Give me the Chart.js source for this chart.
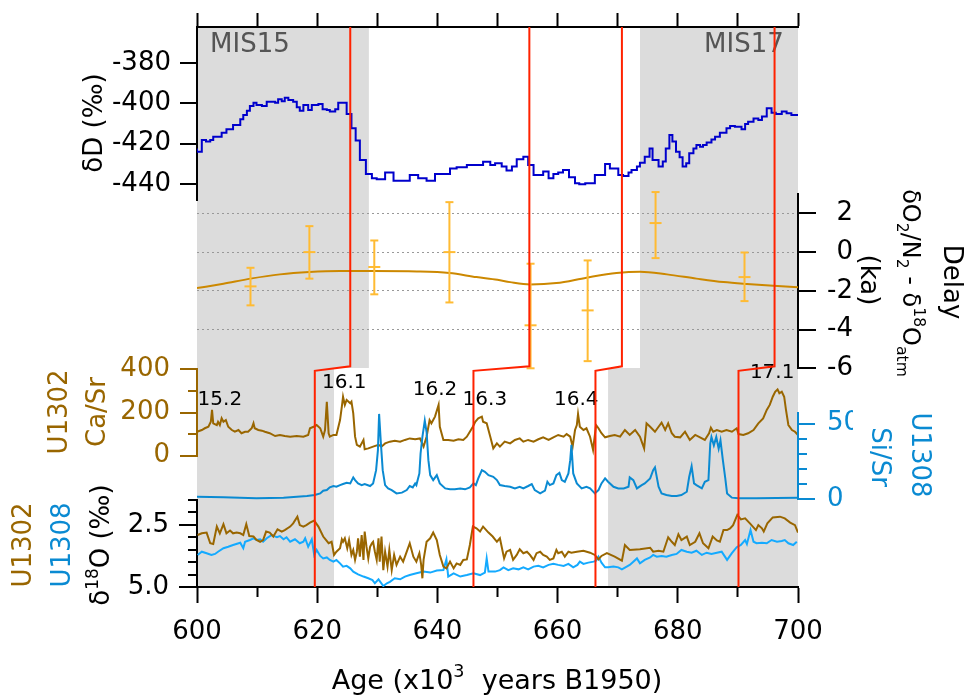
<!DOCTYPE html>
<html>
<head>
<meta charset="utf-8">
<script src="https://cdn.jsdelivr.net/npm/chart.js@4.4.1/dist/chart.umd.min.js"></script>
<style>
  body { margin: 0; background: #fff; }
  #wrap { position: relative; width: 967px; height: 695px; }
  #wrap canvas { position: absolute; left: 0; top: 0; }
</style>
</head>
<body>
<div id="wrap">
  <canvas id="cShade" width="967" height="695"></canvas>
  <canvas id="cDD" width="967" height="695"></canvas>
  <canvas id="cDelay" width="967" height="695"></canvas>
  <canvas id="cCaSr" width="967" height="695"></canvas>
  <canvas id="cSiSr" width="967" height="695"></canvas>
  <canvas id="cD18O" width="967" height="695"></canvas>
  <canvas id="cRed" width="967" height="695"></canvas>
</div>
<script>
// ---- data (age in ka) ----
const ageMin = 600, ageMax = 700;
const xMajorTicks = [600, 620, 640, 660, 680, 700];
const xMinorTicks = [610, 630, 650, 670, 690];
const xTopTicks = [600, 610, 620, 630, 640, 650, 660, 670, 680, 690, 700];

// deuterium, stepped
const dDAge = [
  600.0,600.8,601.5,602.2,602.7,604.1,604.9,606.0,607.2,607.7,
  608.3,608.8,609.4,609.9,610.8,611.6,613.0,613.5,614.1,614.6,
  615.2,616.0,616.6,617.1,617.7,618.5,619.1,620.2,620.9,621.6,
  622.1,623.0,623.5,624.9,625.7,626.4,627.1,628.1,629.1,629.9,
  631.3,632.7,634.1,635.4,636.8,638.2,639.6,642.1,643.2,644.9,
  647.6,648.8,649.6,650.7,651.5,652.4,653.2,654.3,655.1,656.0,
  657.6,658.5,659.3,660.1,660.9,661.9,662.9,663.6,664.6,666.2,
  667.9,668.7,670.1,670.9,671.8,672.3,673.2,673.7,674.5,675.3,
  675.8,676.8,677.5,678.0,678.6,679.1,679.7,680.3,680.8,681.4,
  681.9,682.6,683.1,683.7,684.2,684.8,685.6,686.2,687.0,688.1,
  688.7,689.5,690.6,691.2,691.7,692.6,693.4,694.0,694.8,695.6,
  696.3,697.3,698.1,698.9,699.5,700.0];
const dDVal = [
  -422.4,-424.0,-418.2,-419.0,-418.2,-416.6,-414.6,-412.9,-410.8,-407.9,
  -405.8,-403.7,-401.3,-399.7,-400.8,-401.3,-399.2,-399.7,-398.0,-399.0,
  -397.2,-398.4,-399.2,-402.0,-403.7,-400.8,-403.3,-400.8,-400.3,-403.0,
  -403.3,-404.1,-403.0,-399.7,-405.3,-412.4,-418.5,-428.1,-435.1,-437.2,
  -437.7,-434.4,-438.4,-438.4,-435.6,-437.2,-438.4,-435.1,-432.3,-431.8,
  -430.6,-429.0,-430.6,-429.8,-431.4,-433.4,-431.4,-427.8,-426.5,-430.6,
  -435.6,-433.9,-437.2,-435.1,-434.4,-433.1,-436.7,-439.7,-440.2,-439.7,
  -435.6,-430.1,-432.3,-435.6,-436.1,-434.4,-433.1,-431.4,-429.5,-426.5,
  -422.4,-428.1,-431.4,-428.9,-422.4,-415.7,-419.0,-424.0,-426.8,-431.4,
  -429.8,-424.8,-422.4,-420.7,-421.5,-420.7,-419.5,-417.9,-416.6,-414.6,
  -412.4,-411.3,-411.6,-412.9,-410.3,-409.1,-407.5,-408.3,-406.6,-402.5,
  -404.7,-405.3,-404.1,-404.9,-405.8,-405.8];
const dDTicks = [-380, -400, -420, -440];

// delay dO2/N2 - d18Oatm
const delayCurveAge = [600.0,604.4,608.9,613.8,618.7,623.8,629.3,636.6,642.0,646.5,650.0,652.1,655.4,659.8,664.8,669.8,673.7,678.2,683.1,687.6,691.5,695.9,700.0];
const delayCurveVal = [-1.86,-1.63,-1.37,-1.15,-1.03,-0.98,-0.98,-1.00,-1.08,-1.29,-1.43,-1.55,-1.67,-1.60,-1.32,-1.08,-1.01,-1.15,-1.37,-1.55,-1.65,-1.74,-1.81];
const delayAge  = [608.9, 618.7, 629.5, 642.0, 655.5, 665.0, 676.3, 691.1];
const delayVal  = [-1.77, 0.00, -0.77, 0.00, -3.78, -3.01, 1.50, -1.29];
const delayLow  = [-2.75, -1.37, -2.18, -2.60, -6.00, -5.63, -0.31, -2.53];
const delayHigh = [-0.81, 1.34, 0.60, 2.58, -0.60, -0.43, 3.10, -0.02];
const delayTicks = [2, 0, -2, -4, -6];
const delayGrid = [2, 0, -2, -4];

// U1302 Ca/Sr
const caSrAge = [
  600.0,600.8,601.3,601.9,602.3,602.5,602.7,603.3,603.5,603.8,
  604.1,604.4,604.8,605.2,605.8,606.3,606.9,607.4,608.0,608.5,
  609.1,609.4,609.6,610.2,610.8,611.3,612.1,613.0,613.8,614.6,
  615.5,616.6,617.7,618.5,618.8,619.4,619.9,620.5,621.0,621.3,
  621.6,621.9,622.1,622.7,623.2,623.8,624.1,624.3,624.6,624.9,
  625.5,625.7,626.0,626.3,626.6,627.1,627.7,627.9,628.5,629.3,
  630.2,630.7,631.3,632.1,632.9,633.8,634.6,635.4,636.3,637.1,
  637.7,638.2,638.7,639.0,639.6,640.2,640.4,641.0,641.8,642.7,
  643.5,644.3,644.9,645.4,645.9,646.3,646.8,647.4,647.6,648.2,
  648.8,
  649.3,649.9,650.4,651.2,652.1,652.9,653.7,654.3,655.1,
  656.0,656.8,657.6,658.5,659.3,660.1,661.0,661.5,662.1,662.5,
  662.9,663.2,663.4,663.7,664.3,664.8,665.4,665.9,666.4,666.8,
  667.3,667.9,668.7,669.5,670.4,671.2,672.0,672.9,673.7,674.4,
  674.8,675.4,676.2,676.8,677.3,677.9,678.4,679.0,679.5,680.4,
  681.2,682.0,682.9,683.7,684.5,685.2,685.5,685.9,686.5,687.3,
  688.1,689.0,689.8,690.1,690.9,691.7,692.6,693.4,694.2,694.8,
  695.3,695.8,696.2,696.6,696.9,697.3,697.7,698.0,698.4,699.0,
  699.5,700.0];
const caSrVal = [
  111,119,127,134,157,212,150,142,157,142,
  173,157,165,134,119,111,119,104,111,111,
  127,150,127,119,116,111,104,91,96,91,
  88,91,88,96,127,134,142,127,88,119,
  250,104,88,96,96,165,227,273,235,258,
  243,250,196,88,50,42,73,30,34,42,
  50,42,57,65,69,65,73,80,76,80,
  42,88,165,150,181,235,134,73,73,69,
  76,73,88,111,134,157,173,181,157,150,
  88,
  34,57,42,65,57,73,80,65,73,
  65,76,85,73,85,96,88,100,88,42,
  119,142,193,134,119,127,88,27,142,127,
  104,85,91,96,88,119,96,119,88,34,
  150,134,111,134,153,119,150,104,88,85,
  111,73,96,85,73,104,130,111,119,111,
  119,111,127,100,96,104,119,150,173,212,
  235,273,296,307,289,296,273,212,142,119,
  111,96];
const caSrMajor = [0, 200, 400];
const caSrMinor = [100, 300];
const peakLabels = ['15.2', '16.1', '16.2', '16.3', '16.4', '17.1'];
const peakAge = [603.8, 624.5, 639.6, 647.9, 663.1, 695.7];
const peakVal = [258, 337, 304, 258, 258, 383];

// U1308 Si/Sr
const siSrAge = [
  600.0,604.4,609.9,614.4,618.3,619.6,620.5,621.0,621.6,622.1,
  622.7,623.2,623.8,624.3,624.9,625.5,626.0,626.3,626.8,627.4,
  627.9,628.8,629.3,629.8,630.1,630.3,630.6,630.9,631.3,631.8,
  632.4,633.2,634.1,634.9,635.4,635.9,636.3,636.5,637.0,637.2,
  637.5,637.9,638.2,638.5,638.8,639.3,639.9,640.4,641.3,642.1,
  642.9,643.8,644.6,645.4,646.0,646.4,646.8,647.4,647.9,648.5,
  649.3,649.9,650.4,651.2,652.1,652.9,653.7,654.3,655.1,655.7,
  656.2,657.1,657.9,658.3,658.7,659.3,659.8,660.3,660.7,661.2,
  661.8,662.1,662.3,662.6,663.2,664.0,664.8,665.4,666.2,666.8,
  667.3,667.9,668.4,669.3,670.1,671.0,671.8,672.0,672.6,673.2,
  674.0,674.5,675.4,675.9,676.2,676.8,677.3,678.1,679.0,679.8,
  680.6,681.5,681.9,682.3,682.7,683.1,684.0,684.5,685.1,685.4,
  685.6,686.0,686.4,686.8,687.1,687.5,687.9,688.2,689.0,690.1,
  693.1,696.4,700.0];
const siSrVal = [
  1.7,1.3,0.7,1.1,2.2,2.8,3.9,5.7,6.1,7.9,
  8.8,8.3,9.4,10.1,10.9,10.5,14.5,12.7,10.5,9.4,
  10.1,8.8,10.5,19.3,32.4,56.5,36.8,19.3,9.4,7.2,
  6.1,3.9,4.4,6.1,8.8,7.9,10.5,9.4,17.1,30.3,
  41.2,52,44.5,25.9,16,12.7,16,10.5,7.2,6.6,
  6.6,7.2,6.6,7.9,10.5,9.4,13.8,19.3,18.2,16,
  14.9,12.7,9.4,8.8,8.3,7.2,8.3,7.2,8.8,10.1,
  6.1,3.9,5.7,11.6,9.4,10.5,16,17.5,12.7,11.6,
  17.1,25.9,36,17.1,10.5,7.2,8.3,7.2,3.9,6.1,
  10.5,13.8,11.6,8.3,7.2,7.2,8.3,14.5,12.7,7.2,
  9.4,10.5,13.8,19.3,21.1,8.3,3.9,2.8,2.2,2.2,
  2.8,5,14.9,21.9,10.5,9.4,7.2,11.6,12.7,36.8,
  41.2,35.7,41.2,33.5,39,25.9,13.8,3.9,1.1,0.7,
  0.7,0.9,1.1];
const siSrMajor = [0, 50];
const siSrMinor = [10, 20, 30, 40];

// benthic d18O
const o1302Age = [
  600.1,600.8,601.6,602.2,602.7,603.3,603.8,604.4,604.9,605.5,
  606.0,606.6,607.2,607.7,608.2,608.7,609.4,609.9,610.5,611.0,
  611.5,612.1,612.7,613.4,614.1,614.6,615.5,616.0,616.7,617.1,
  617.7,618.2,618.8,619.5,620.2,621.0,621.9,622.4,622.8,623.2,
  623.8,624.1,624.3,624.6,625.0,625.3,625.7,626.0,626.3,626.6,
  626.8,627.1,627.4,627.7,627.9,628.2,628.5,628.8,629.1,629.3,
  629.6,629.9,630.2,630.4,630.7,631.0,631.3,631.7,632.0,632.4,
  632.8,633.2,633.8,634.3,634.9,635.4,636.0,636.5,637.0,637.3,
  637.5,637.7,638.2,638.8,639.3,639.9,640.4,641.0,641.5,642.1,
  642.7,643.2,643.8,644.3,644.9,645.4,645.9,646.5,647.1,647.6,
  648.5,
  649.2,649.9,650.4,651.1,651.5,652.1,652.6,653.2,653.7,654.3,
  654.9,655.4,656.0,656.5,657.1,657.6,658.2,658.7,659.3,659.8,
  660.1,660.7,661.2,661.8,662.3,663.2,664.3,665.4,666.2,666.8,
  667.3,668.2,669.5,670.7,671.2,672.0,673.7,675.4,675.9,676.8,
  677.6,678.4,679.0,679.5,680.1,680.6,681.5,682.0,682.9,683.6,
  684.2,685.1,685.8,686.5,687.0,687.6,688.2,688.7,689.2,689.9,
  690.5,691.2,692.0,693.0,693.4,694.0,694.3,694.9,695.8,697.0,
  697.8,698.7,699.5,700.0];
const o1302Val = [
  2.91,2.84,2.81,3.24,3.27,2.57,2.84,2.47,2.84,2.73,
  2.84,2.81,2.84,2.91,2.47,2.95,2.97,3.11,3.18,3.11,
  2.77,2.81,2.97,2.68,2.77,2.71,2.57,2.44,2.17,2.51,
  2.57,2.51,2.41,2.33,2.57,2.97,3.24,3.18,3.71,3.58,
  3.44,3.08,3.18,3.04,3.44,3.11,3.71,3.51,3.91,3.58,
  3.04,3.78,2.91,3.91,2.77,3.38,3.85,3.38,3.24,3.18,
  3.58,3.91,3.04,3.98,2.97,4.32,3.58,4.18,3.51,4.32,
  3.71,4.11,3.78,3.98,3.58,3.24,3.78,3.98,3.64,4.11,
  4.65,3.91,3.18,3.04,2.81,3.11,3.71,4.18,4.25,3.98,
  4.25,4.05,4.11,3.91,3.89,3.31,2.57,2.64,2.77,2.57,
  2.81,
  2.97,3.18,3.04,3.85,3.58,3.51,3.91,3.71,3.48,3.64,
  3.58,3.71,3.91,3.64,3.58,3.71,3.78,3.91,3.85,3.51,
  3.64,3.58,3.78,3.58,3.62,3.58,3.54,3.62,3.71,3.89,
  3.75,3.64,3.78,3.94,3.31,3.51,3.48,3.42,3.58,3.54,
  3.58,3.00,3.18,3.31,2.88,3.11,2.97,3.31,3.18,2.84,
  3.24,3.44,2.97,3.13,3.18,2.71,2.71,2.64,2.51,2.10,
  2.28,2.24,2.44,2.71,2.51,2.64,2.77,2.44,2.20,2.17,
  2.24,2.41,2.51,2.81];
const o1308Age = [
  600.1,600.8,601.6,602.4,603.0,603.5,604.4,605.2,606.0,607.2,
  607.7,608.0,608.8,609.4,609.9,610.5,611.0,611.6,612.4,613.3,
  613.8,614.4,614.9,615.5,616.3,617.1,617.7,618.0,618.5,619.1,
  619.5,619.9,620.5,621.0,621.6,622.1,622.7,623.2,623.8,624.3,
  624.9,625.5,626.0,626.8,627.7,628.5,629.2,629.6,630.2,631.0,
  631.6,632.1,632.9,633.8,634.6,635.4,636.5,637.7,638.8,639.9,
  641.0,641.5,641.8,642.7,643.8,644.9,646.0,647.1,647.9,648.2,
  648.5,
  649.6,650.4,651.0,651.8,652.6,653.5,654.3,655.1,656.0,656.8,
  657.6,658.5,659.3,660.1,661.0,661.8,662.6,663.3,663.7,664.3,
  665.1,666.0,666.4,666.8,667.3,667.9,668.4,669.3,670.1,670.7,
  671.5,672.0,672.6,673.2,673.7,674.5,675.4,675.9,676.5,677.3,
  678.1,679.0,679.8,680.6,681.5,682.3,683.1,684.0,684.8,685.6,
  686.5,687.3,688.2,689.0,689.8,690.5,691.2,691.5,692.1,692.6,
  693.1,694.0,694.8,695.6,696.5,697.3,697.8,698.4,699.2,699.8];
const o1308Val = [
  3.71,3.58,3.64,3.71,3.67,3.58,3.44,3.38,3.31,3.22,
  3.44,3.18,3.11,3.04,3.11,3.08,3.18,3.04,2.91,3.00,
  2.95,3.08,3.00,3.18,3.08,3.24,3.18,3.04,3.38,3.08,
  3.71,3.51,3.75,3.85,3.81,3.91,3.98,3.91,4.05,4.18,
  4.15,4.25,4.38,4.49,4.58,4.65,4.72,4.85,4.69,4.96,
  4.85,4.79,4.65,4.69,4.58,4.52,4.45,4.38,4.42,4.34,
  4.32,3.89,4.58,4.45,4.58,4.52,4.45,4.52,4.42,3.85,
  4.38,
  4.38,4.32,4.21,4.32,4.25,4.29,4.21,4.29,4.18,4.15,
  4.21,4.11,4.07,4.11,4.15,4.07,4.21,4.11,3.98,4.07,
  4.02,3.98,3.94,3.78,4.02,4.21,4.21,4.18,4.21,4.29,
  4.18,4.11,3.98,3.85,4.05,3.91,3.81,3.71,3.78,3.75,
  3.78,3.71,3.67,3.51,3.58,3.62,3.54,3.71,3.62,3.67,
  3.62,3.58,3.91,3.64,3.40,3.31,3.11,3.27,2.71,3.18,
  3.24,3.22,3.24,3.11,3.18,3.15,3.11,3.24,3.31,3.18];
const o18Major = [2.5, 5.0];
const o18Minor = [1.5, 2.0, 3.0, 3.5, 4.0, 4.5];

// interglacial shading and tie lines (age ranges)
const shadeUpperFrom = [600.0, 673.7], shadeUpperTo = [628.6, 700.0];
const shadeLowerFrom = [600.0, 668.4], shadeLowerTo = [622.8, 700.0];
const redTopAge = [625.5, 655.3, 670.7, 696.1];
const redBottomAge = [619.6, 646.0, 666.3, 690.1];
const misLabels = ['MIS15', 'MIS17'];
const misAge = [608.8, 691.0];
const misVal = -371;

// ---- look ----
const FONT = '"DejaVu Sans", sans-serif';
const TICK_SIZE = 26;
const BROWN = '#996600';
const SIBLUE = '#0a8ad2';
const OBLUE = '#14aaff';
const SHADE = '#dcdcdc';
const RED = '#ff2200';
const splitLevel = 0.391;           // where upper and lower blocks meet (fraction of full height)
const redJogHi = 0.394, redJogLo = 0.386;

function pts(xs, ys) { return xs.map((x, i) => ({ x: x, y: ys[i] })); }
function setTicks(arr) { return function (s) { s.ticks = arr.map(v => ({ value: v })); }; }
function setWidth(w) { return function (s) { s.width = w; }; }
function setHeight(h) { return function (s) { s.height = h; }; }

function hiddenX() { return { type: 'linear', axis: 'x', min: ageMin, max: ageMax, display: false }; }

function yAxis(o) {
  return {
    type: 'linear', axis: 'y', position: o.position, min: o.min, max: o.max,
    reverse: !!o.reverse, weight: o.weight || 0,
    afterBuildTicks: setTicks(o.ticks), afterFit: setWidth(o.width),
    grid: { drawOnChartArea: false, color: o.color, tickLength: o.tl, tickWidth: 2, lineWidth: 2 },
    border: { color: o.color, width: 2 },
    ticks: {
      display: !!o.labels, color: o.color, padding: o.pad || 10,
      crossAlign: o.crossAlign || 'near',
      font: { family: FONT, size: TICK_SIZE },
      callback: o.fmt || (v => String(v))
    }
  };
}

function line(data, color, extra) {
  return Object.assign({ data: data, borderColor: color, borderWidth: 2, pointRadius: 0,
    fill: false, tension: 0, xAxisID: 'x', yAxisID: 'y' }, extra || {});
}

function makeChart(id, pad, scales, datasets, plugins) {
  return new Chart(document.getElementById(id), {
    type: 'line',
    data: { datasets: datasets },
    options: {
      responsive: false, animation: false, events: [],
      layout: { padding: pad },
      plugins: { legend: { display: false }, tooltip: { enabled: false } },
      scales: scales
    },
    plugins: plugins || []
  });
}

function drawRich(ctx, it) {
  const size = it.size || 26;
  ctx.save();
  ctx.translate(it.x, it.y);
  ctx.rotate((it.rot || 0) * Math.PI / 180);
  ctx.fillStyle = it.color || '#000';
  ctx.textBaseline = 'alphabetic';
  ctx.textAlign = 'left';
  let total = 0;
  it.parts.forEach(p => {
    ctx.font = (p.s ? size * 0.65 : size) + 'px ' + FONT;
    total += ctx.measureText(p.t).width;
  });
  let x = -total / 2;
  it.parts.forEach(p => {
    const fs = p.s ? size * 0.65 : size;
    ctx.font = fs + 'px ' + FONT;
    const dy = p.s === 'sup' ? -size * 0.45 : p.s === 'sub' ? size * 0.25 : 0;
    ctx.fillText(p.t, x, size * 0.36 + dy);
    x += ctx.measureText(p.t).width;
  });
  ctx.restore();
}

// ---- shading (behind everything) ----
const fullScales = {
  x: hiddenX(),
  y: { type: 'linear', axis: 'y', min: 0, max: 1, display: false }
};
const shadeSets = [];
shadeUpperFrom.forEach((a, i) => shadeSets.push(line(pts([a, shadeUpperTo[i]], [1, 1]), SHADE,
  { borderWidth: 0, backgroundColor: SHADE, fill: { value: splitLevel } })));
shadeLowerFrom.forEach((a, i) => shadeSets.push(line(pts([a, shadeLowerTo[i]], [splitLevel, splitLevel]), SHADE,
  { borderWidth: 0, backgroundColor: SHADE, fill: 'origin' })));
makeChart('cShade', { left: 197, right: 169, top: 27, bottom: 108 }, fullScales, shadeSets);

// ---- dD ----
makeChart('cDD', { left: 0, right: 169, top: 13, bottom: 495 }, {
  x: hiddenX(),
  xTop: {
    type: 'linear', axis: 'x', position: 'top', min: ageMin, max: ageMax,
    afterBuildTicks: setTicks(xTopTicks), afterFit: setHeight(14),
    grid: { drawOnChartArea: false, color: '#000', tickLength: 14, tickWidth: 2 },
    border: { color: '#000', width: 2 },
    ticks: { display: false }
  },
  y: yAxis({ position: 'left', min: -448.0, max: -362.1, ticks: dDTicks, width: 197, tl: 17, pad: 9, color: '#000', labels: true, weight: 1 })
}, [
  line(pts(dDAge, dDVal), '#0000cc', { stepped: 'after' })
], [{
  id: 'mis',
  afterDatasetsDraw(chart) {
    const ctx = chart.ctx;
    ctx.save();
    ctx.font = '26px ' + FONT;
    ctx.fillStyle = '#555';
    ctx.textAlign = 'center';
    ctx.textBaseline = 'middle';
    misLabels.forEach((t, i) => ctx.fillText(t, chart.scales.x.getPixelForValue(misAge[i]), chart.scales.y.getPixelForValue(misVal)));
    ctx.restore();
  }
}]);

// ---- delay ----
const barPts = [];
delayAge.forEach((a, i) => {
  barPts.push({ x: a, y: delayLow[i] }, { x: a, y: delayHigh[i] }, { x: a, y: null });
});
makeChart('cDelay', { left: 197, right: 114, top: 194, bottom: 326.7 }, {
  x: hiddenX(),
  y: yAxis({ position: 'right', min: -6, max: 3, ticks: delayTicks, width: 55, tl: 18, color: '#000', labels: true, weight: 1, crossAlign: 'far' }),
  yg: {
    type: 'linear', axis: 'y', position: 'right', min: -6, max: 3, weight: 0,
    afterBuildTicks: setTicks(delayGrid), afterFit: setWidth(0),
    grid: { drawOnChartArea: true, drawTicks: false, color: '#999', lineWidth: 1, borderDash: [2, 3] },
    border: { display: false, dash: [2, 3] },
    ticks: { display: false }
  }
}, [
  line(pts(delayAge, delayVal), '#ffbb33', { showLine: false, pointStyle: 'line', pointRadius: 6, pointBorderWidth: 2, pointBorderColor: '#ffbb33', clip: false }),
  line(barPts, '#ffbb33', { pointStyle: 'line', pointRadius: 4, pointBorderWidth: 2, pointBorderColor: '#ffbb33', spanGaps: false, clip: false }),
  line(pts(delayCurveAge, delayCurveVal), '#cc8800', { cubicInterpolationMode: 'monotone' })
]);

// ---- Ca/Sr ----
makeChart('cCaSr', { left: 0, right: 169, top: 369.3, bottom: 239.3 }, {
  x: hiddenX(),
  y: yAxis({ position: 'left', min: 0, max: 400, ticks: caSrMajor, width: 197, tl: 17, pad: 10, color: BROWN, labels: true, weight: 1 }),
  y2: yAxis({ position: 'left', min: 0, max: 400, ticks: caSrMinor, width: 0, tl: 9, color: BROWN, labels: false, weight: 0 })
}, [
  line(pts(caSrAge, caSrVal), BROWN, { clip: false })
], [{
  id: 'peaks',
  afterDatasetsDraw(chart) {
    const ctx = chart.ctx;
    ctx.save();
    ctx.font = '20px ' + FONT;
    ctx.fillStyle = '#000';
    ctx.textAlign = 'center';
    ctx.textBaseline = 'middle';
    peakLabels.forEach((t, i) => ctx.fillText(t, chart.scales.x.getPixelForValue(peakAge[i]), chart.scales.y.getPixelForValue(peakVal[i])));
    ctx.restore();
  }
}]);

// ---- Si/Sr ----
makeChart('cSiSr', { left: 197, right: 114, top: 412.7, bottom: 195.7 }, {
  x: hiddenX(),
  y: yAxis({ position: 'right', min: 0, max: 57.3, ticks: siSrMajor, width: 55, tl: 17, color: SIBLUE, labels: true, weight: 1, pad: 12 }),
  y2: yAxis({ position: 'right', min: 0, max: 57.3, ticks: siSrMinor, width: 0, tl: 9, color: SIBLUE, labels: false, weight: 0 })
}, [
  line(pts(siSrAge, siSrVal), SIBLUE, { clip: false })
]);

// ---- d18O + bottom age axis ----
makeChart('cD18O', { left: 0, right: 169, top: 500, bottom: 0 }, {
  x: {
    type: 'linear', axis: 'x', position: 'bottom', min: ageMin, max: ageMax, weight: 1,
    afterBuildTicks: setTicks(xMajorTicks), afterFit: setHeight(108),
    grid: { drawOnChartArea: false, color: '#000', tickLength: 16, tickWidth: 2 },
    border: { color: '#000', width: 2 },
    ticks: { color: '#000', padding: 14, font: { family: FONT, size: TICK_SIZE }, maxRotation: 0 }
  },
  x2: {
    type: 'linear', axis: 'x', position: 'bottom', min: ageMin, max: ageMax, weight: 0,
    afterBuildTicks: setTicks(xMinorTicks), afterFit: setHeight(0),
    grid: { drawOnChartArea: false, color: '#000', tickLength: 10, tickWidth: 2 },
    border: { color: '#000', width: 2 },
    ticks: { display: false }
  },
  y: yAxis({ position: 'left', min: 1.5, max: 5.0, reverse: true, ticks: o18Major, width: 197, tl: 18, pad: 10, color: '#000', labels: true, weight: 1, fmt: v => v.toFixed(1) }),
  y2: yAxis({ position: 'left', min: 1.5, max: 5.0, reverse: true, ticks: o18Minor, width: 0, tl: 9, color: '#000', labels: false, weight: 0 })
}, [
  line(pts(o1302Age, o1302Val), BROWN),
  line(pts(o1308Age, o1308Val), OBLUE)
]);

// ---- tie lines + axis titles (on top) ----
const redSets = redTopAge.map((a, i) => line(
  pts([a, a, redBottomAge[i], redBottomAge[i]], [1, redJogHi, redJogLo, 0]), RED, { clip: false }));

const axisTitles = [
  { x: 93, y: 123, rot: -90, parts: [{ t: 'δD (‰)' }] },
  { x: 58, y: 412, rot: -90, color: BROWN, parts: [{ t: 'U1302' }] },
  { x: 96, y: 412, rot: -90, color: BROWN, parts: [{ t: 'Ca/Sr' }] },
  { x: 22, y: 545, rot: -90, color: BROWN, parts: [{ t: 'U1302' }] },
  { x: 61, y: 545, rot: -90, color: SIBLUE, parts: [{ t: 'U1308' }] },
  { x: 100, y: 545, rot: -90, parts: [{ t: 'δ' }, { t: '18', s: 'sup' }, { t: 'O (‰)' }] },
  { x: 953, y: 282, rot: 90, parts: [{ t: 'Delay' }] },
  { x: 912, y: 283, rot: 90, size: 24, parts: [{ t: 'δO' }, { t: '2', s: 'sub' }, { t: '/N' }, { t: '2', s: 'sub' }, { t: ' - δ' }, { t: '18', s: 'sup' }, { t: 'O' }, { t: 'atm', s: 'sub' }] },
  { x: 870, y: 280, rot: 90, parts: [{ t: '(ka)' }] },
  { x: 921, y: 455, rot: 90, color: SIBLUE, parts: [{ t: 'U1308' }] },
  { x: 881, y: 457, rot: 90, color: SIBLUE, parts: [{ t: 'Si/Sr' }] },
  { x: 497, y: 679, rot: 0, size: 27, parts: [{ t: 'Age (x10' }, { t: '3', s: 'sup' }, { t: '  years B1950)' }] }
];

makeChart('cRed', { left: 197, right: 169, top: 27, bottom: 108 }, fullScales, redSets, [{
  id: 'titles',
  afterDraw(chart) { axisTitles.forEach(it => drawRich(chart.ctx, it)); }
}]);
</script>
</body>
</html>
